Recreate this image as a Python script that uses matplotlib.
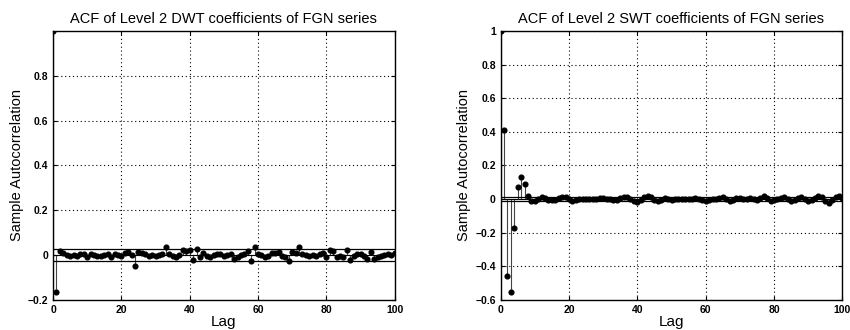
import numpy as np
import matplotlib
matplotlib.use("Agg")
import matplotlib.pyplot as plt

# ==== Données ====
lags = np.arange(0, 101)

acf_dwt = [
    1.0, -0.165, 0.02, 0.01, 0.0, -0.005, 0.0, -0.005, 0.005, 0.005,
    -0.01, 0.005, 0.0, -0.005, -0.005, 0.0, 0.005, -0.01, 0.005, 0.0,
    -0.005, 0.01, 0.015, 0.0, -0.05, 0.015, 0.01, 0.005, -0.005, 0.0,
    -0.005, 0.0, 0.005, 0.035, 0.005, -0.005, -0.01, 0.0, 0.025, 0.02,
    0.025, -0.02, 0.027, -0.01, 0.01, -0.005, -0.01, 0.0, 0.005, 0.005,
    -0.005, 0.0, 0.005, -0.015, -0.01, 0.0, 0.005, 0.02, -0.025, 0.035,
    0.005, 0.0, -0.01, -0.005, 0.01, 0.01, 0.015, -0.005, -0.01, -0.025,
    0.015, 0.01, 0.035, 0.005, 0.0, -0.005, 0.0, -0.005, 0.005, 0.01,
    -0.01, 0.025, 0.02, -0.01, -0.005, -0.01, 0.025, -0.02, -0.005, 0.005,
    0.005, -0.005, -0.015, 0.015, -0.015, -0.01, -0.005, 0.0, 0.005, 0.0,
    0.01,
]

acf_swt = [
    1.0, 0.41, -0.46, -0.55, -0.17, 0.075, 0.13, 0.09, 0.02, -0.012,
    -0.01, 0.0, 0.01, 0.005, -0.005, -0.008, -0.003, 0.005, 0.014, 0.012,
    0.0, -0.01, -0.006, 0.0, 0.002, 0.0, 0.0, 0.002, 0.0, 0.004,
    0.006, 0.003, -0.002, -0.006, -0.003, 0.006, 0.014, 0.012, 0.0, -0.012,
    -0.02, -0.005, 0.01, 0.02, 0.012, -0.004, -0.01, -0.004, 0.004, 0.0,
    -0.004, -0.002, 0.0, 0.002, 0.0, -0.002, 0.0, 0.004, 0.0, -0.006,
    -0.01, -0.004, 0.002, 0.0, 0.006, 0.01, 0.0, -0.01, -0.004, 0.006,
    0.004, 0.0, 0.002, 0.004, 0.002, -0.004, 0.004, 0.016, 0.004, -0.012,
    -0.008, 0.002, 0.006, 0.01, 0.0, -0.01, -0.004, 0.006, 0.012, 0.002,
    -0.01, -0.006, 0.008, 0.02, 0.012, -0.01, -0.024, -0.006, 0.014, 0.016,
    0.004,
]

conf_dwt = 0.028   # bornes de confiance
conf_swt = 0.012

titles = ["ACF of Level 2 DWT coefficients of FGN series",
          "ACF of Level 2 SWT coefficients of FGN series"]
ylims = [(-0.2, 1.0), (-0.6, 1.0)]
yticks = [[-0.2, 0, 0.2, 0.4, 0.6, 0.8],
          [-0.6, -0.4, -0.2, 0, 0.2, 0.4, 0.6, 0.8, 1]]
xticks = [0, 20, 40, 60, 80, 100]

plt.rcParams['font.family'] = ['Liberation Sans', 'DejaVu Sans']

fig = plt.figure(figsize=(8.5, 3.3), dpi=100)
positions = [[0.0624, 0.091, 0.402, 0.815],
             [0.589, 0.091, 0.402, 0.815]]

for pos, acf, conf, title, ylim, yt in zip(positions, [acf_dwt, acf_swt],
                                           [conf_dwt, conf_swt], titles, ylims, yticks):
    ax = fig.add_axes(pos)
    ml, sl, bl = ax.stem(lags, acf, linefmt='k-', markerfmt='ko', basefmt='k-')
    plt.setp(ml, markersize=3.4)
    plt.setp(sl, linewidth=0.8, color='#444444')
    plt.setp(bl, linewidth=0.8)
    ax.axhline(conf, color='k', linewidth=0.9)
    ax.axhline(-conf, color='k', linewidth=0.9)

    ax.set_xlim(0, 100)
    ax.set_ylim(*ylim)
    ax.set_xticks(xticks)
    ax.set_yticks(yt)
    ax.set_yticklabels([f"{v:g}".replace("-", "\u2212") for v in yt])
    ax.grid(True, linestyle=(0, (1, 2.5)), color='k', linewidth=0.8)
    ax.tick_params(direction='in', length=3, labelsize=7.5, top=True, right=True)
    for lab in ax.get_xticklabels() + ax.get_yticklabels():
        lab.set_fontweight('bold')
    for sp in ax.spines.values():
        sp.set_linewidth(1.0)

    ax.set_title(title, fontsize=10.5, pad=6)
    ax.set_xlabel("Lag", fontsize=11, labelpad=0)
    ax.set_ylabel("Sample Autocorrelation", fontsize=10.5, labelpad=3)

fig.savefig("out.png", dpi=100)
